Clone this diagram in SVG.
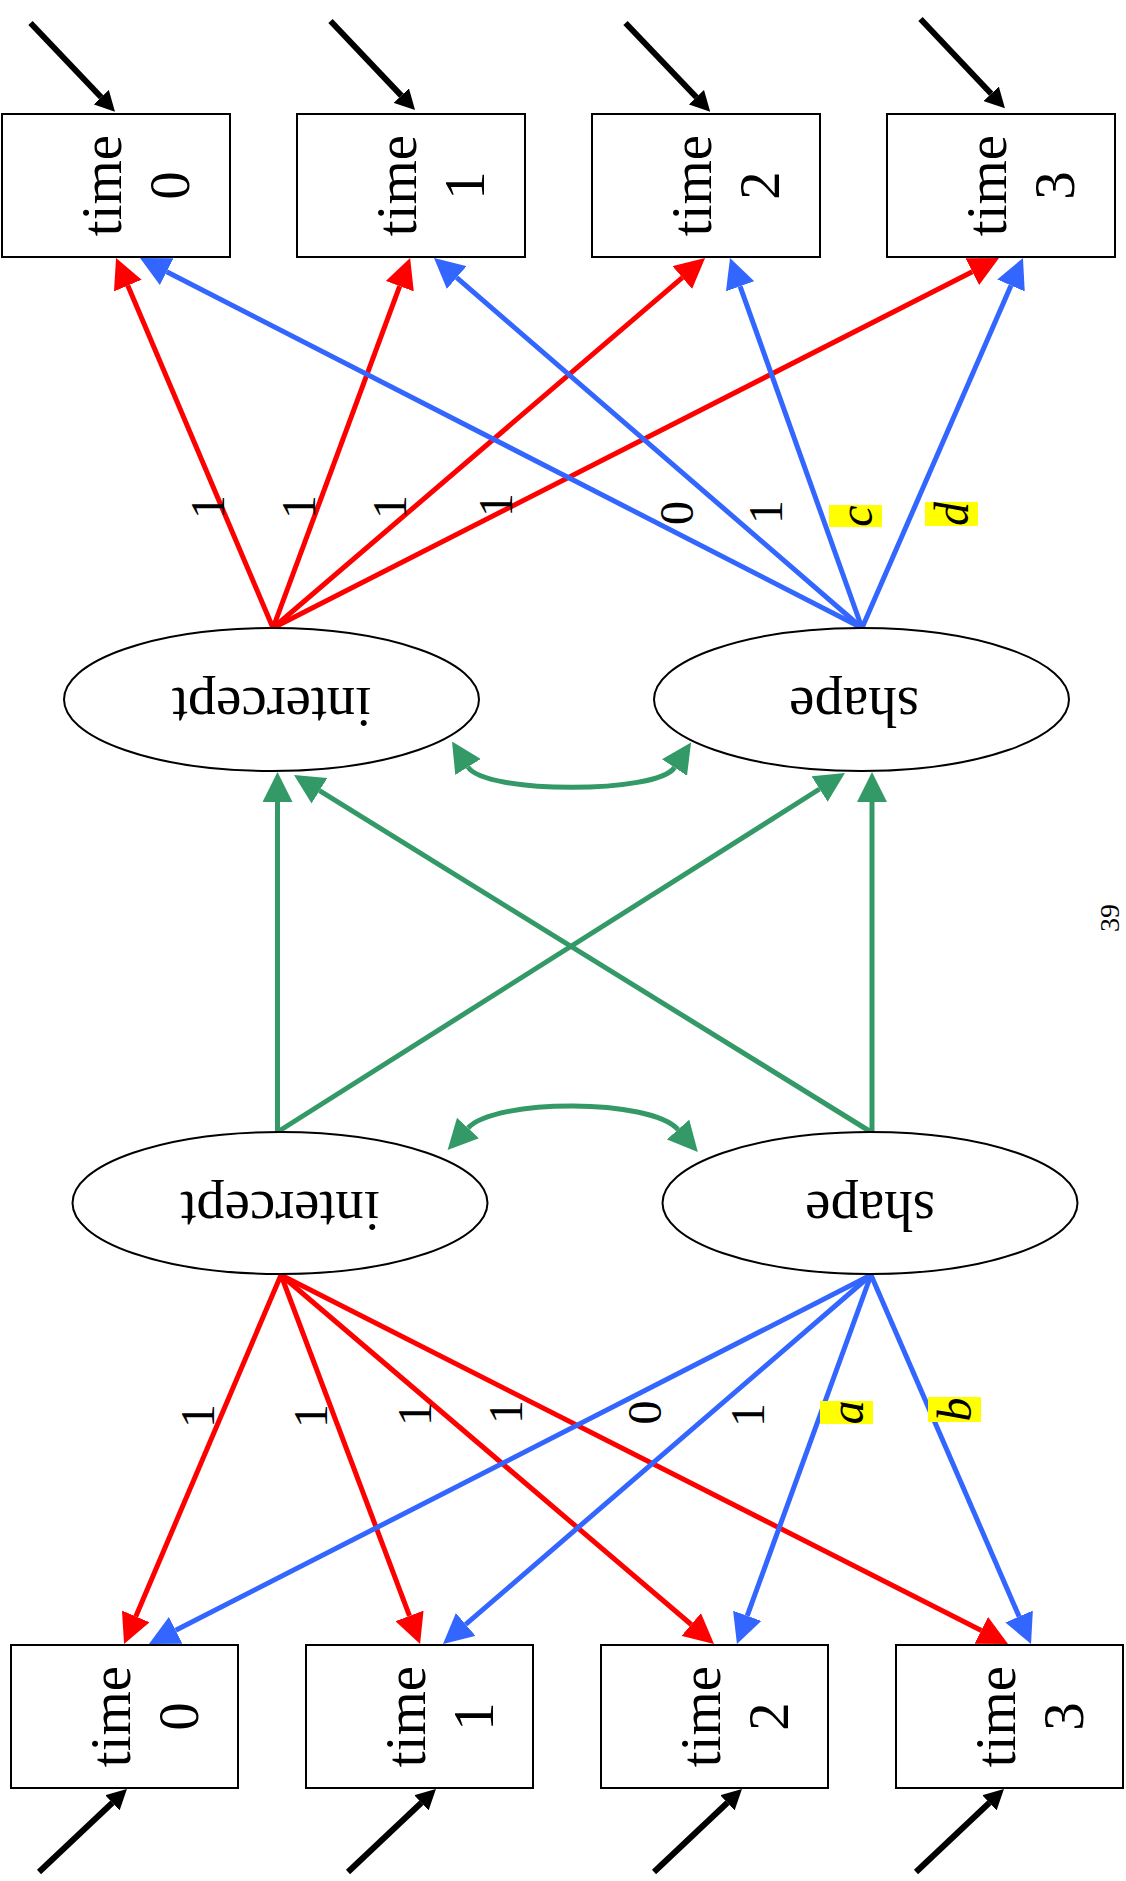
<svg xmlns="http://www.w3.org/2000/svg" width="1126" height="1881" viewBox="0 0 1126 1881">
  <style>
    text { font-family: "Liberation Serif", "Times New Roman", serif; fill: #000; }
    .box { fill: #fff; stroke: #000; stroke-width: 2; }
    .lat { fill: #fff; stroke: #000; stroke-width: 2; }
    .nlab { font-size: 57px; text-anchor: middle; }
    .elab { font-size: 48px; text-anchor: middle; }
    .it { font-style: italic; }
    .hl { fill: #ffff00; }
    .e { fill: none; stroke-width: 5; stroke-linecap: butt; }
    .red { stroke: #ff0000; marker-end: url(#ah-red); }
    .blue { stroke: #3366ff; marker-end: url(#ah-blue); }
    .green { stroke: #339966; marker-end: url(#ah-green); }
    .both { marker-start: url(#ah-green); }
    .blk { stroke: #000; stroke-width: 6; marker-end: url(#ah-black); }
    .pg { font-size: 28px; text-anchor: middle; }
  </style>
  <defs>
    <marker id="ah-red" markerUnits="userSpaceOnUse" viewBox="0 -15 30 30" markerWidth="30" markerHeight="30" refX="0" refY="0" orient="auto">
      <path d="M0,-15 L30,0 L0,15 Z" fill="#ff0000"/>
    </marker>
    <marker id="ah-blue" markerUnits="userSpaceOnUse" viewBox="0 -15 30 30" markerWidth="30" markerHeight="30" refX="0" refY="0" orient="auto">
      <path d="M0,-15 L30,0 L0,15 Z" fill="#3366ff"/>
    </marker>
    <marker id="ah-green" markerUnits="userSpaceOnUse" viewBox="0 -15 30 30" markerWidth="30" markerHeight="30" refX="0" refY="0" orient="auto-start-reverse">
      <path d="M0,-15 L30,0 L0,15 Z" fill="#339966"/>
    </marker>
    <marker id="ah-black" markerUnits="userSpaceOnUse" viewBox="0 -10.5 20 21" markerWidth="20" markerHeight="21" refX="0" refY="0" orient="auto">
      <path d="M0,-10.5 L20,0 L0,10.5 Z" fill="#000"/>
    </marker>
  </defs>

  <rect width="1126" height="1881" fill="#fff"/>

  <!-- connectors -->
  <g id="connectors">
    <!-- upper measurement block -->
    <path class="e red" d="M273,628 L127.8,285.6"/>
    <path class="e red" d="M273,628 L399.7,286.2"/>
    <path class="e red" d="M273,628 L682.3,277.6"/>
    <path class="e red" d="M273,628 L972.3,271.7"/>
    <path class="e blue" d="M862,628 L166.7,271.7"/>
    <path class="e blue" d="M862,628 L456.7,277.6"/>
    <path class="e blue" d="M862,628 L740.1,286.3"/>
    <path class="e blue" d="M862,628 L1011,285.5"/>

    <!-- lower measurement block -->
    <path class="e red" d="M281,1275 L135.8,1616.4"/>
    <path class="e red" d="M281,1275 L409.5,1615.9"/>
    <path class="e red" d="M281,1275 L691.2,1624.5"/>
    <path class="e red" d="M281,1275 L981.3,1630.4"/>
    <path class="e blue" d="M871,1275 L175.7,1630.3"/>
    <path class="e blue" d="M871,1275 L465.7,1624.4"/>
    <path class="e blue" d="M871,1275 L747.2,1615.8"/>
    <path class="e blue" d="M871,1275 L1019.1,1616.5"/>

    <!-- structural paths between the latent pairs -->
    <path class="e green" d="M277.5,1132 L277.5,802"/>
    <path class="e green" d="M872,1132 L872,802"/>
    <path class="e green" d="M277.5,1132 L819.6,789"/>
    <path class="e green" d="M871,1132 L319.5,790.7"/>

    <!-- covariances -->
    <path class="e green both" d="M468,767 C485,794 657,794 674.5,767.5"/>
    <path class="e green both" d="M468,1128 C495.5,1098.4 650.5,1098.4 678,1129.6"/>

    <!-- residual inputs -->
    <path class="e blk" d="M30.5,23 L101.2,97.2"/>
    <path class="e blk" d="M330.5,21 L401.3,95.6"/>
    <path class="e blk" d="M625.5,23 L696.4,97.2"/>
    <path class="e blk" d="M920.5,19 L991.2,93.8"/>
    <path class="e blk" d="M39,1872 L112.4,1802.8"/>
    <path class="e blk" d="M348,1872 L421.4,1802.8"/>
    <path class="e blk" d="M654,1872 L727.4,1802.8"/>
    <path class="e blk" d="M916,1872 L989.4,1802.8"/>

    <!-- loading labels -->
    <g id="edge-labels">
      <text class="elab" transform="translate(224,507) rotate(-90)">1</text>
      <text class="elab" transform="translate(315,507) rotate(-90)">1</text>
      <text class="elab" transform="translate(406,507) rotate(-90)">1</text>
      <text class="elab" transform="translate(512,505) rotate(-90)">1</text>
      <text class="elab" transform="translate(693,513) rotate(-90)">0</text>
      <text class="elab" transform="translate(782,512) rotate(-90)">1</text>
      <rect class="hl" x="829" y="505" width="53" height="22"/>
      <text class="elab it" transform="translate(871.6,516) rotate(-90)">c</text>
      <rect class="hl" x="925" y="502" width="53" height="24"/>
      <text class="elab it" transform="translate(967.6,514) rotate(-90)">d</text>

      <text class="elab" transform="translate(214,1416) rotate(-90)">1</text>
      <text class="elab" transform="translate(327,1416) rotate(-90)">1</text>
      <text class="elab" transform="translate(431,1414) rotate(-90)">1</text>
      <text class="elab" transform="translate(522,1412) rotate(-90)">1</text>
      <text class="elab" transform="translate(661,1412.5) rotate(-90)">0</text>
      <text class="elab" transform="translate(764,1415) rotate(-90)">1</text>
      <rect class="hl" x="820" y="1401" width="53" height="23"/>
      <text class="elab it" transform="translate(862.6,1412.5) rotate(-90)">a</text>
      <rect class="hl" x="928" y="1397" width="53" height="25"/>
      <text class="elab it" transform="translate(970.6,1409.5) rotate(-90)">b</text>
    </g>
  </g>

  <!-- observed measures, upper row -->
  <g id="t0-upper">
    <rect class="box" x="2" y="114" width="228" height="143"/>
    <text class="nlab" transform="translate(120.5,185.5) rotate(-90)">time</text>
    <text class="nlab" transform="translate(188.5,185.5) rotate(-90)">0</text>
  </g>
  <g id="t1-upper">
    <rect class="box" x="297" y="114" width="228" height="143"/>
    <text class="nlab" transform="translate(415.5,185.5) rotate(-90)">time</text>
    <text class="nlab" transform="translate(483.5,185.5) rotate(-90)">1</text>
  </g>
  <g id="t2-upper">
    <rect class="box" x="592" y="114" width="228" height="143"/>
    <text class="nlab" transform="translate(710.5,185.5) rotate(-90)">time</text>
    <text class="nlab" transform="translate(778.5,185.5) rotate(-90)">2</text>
  </g>
  <g id="t3-upper">
    <rect class="box" x="887" y="114" width="228" height="143"/>
    <text class="nlab" transform="translate(1005.5,185.5) rotate(-90)">time</text>
    <text class="nlab" transform="translate(1073.5,185.5) rotate(-90)">3</text>
  </g>

  <!-- latent growth factors, upper pair -->
  <g id="intercept-upper">
    <ellipse class="lat" cx="271.5" cy="699.5" rx="207.5" ry="71.5"/>
    <text class="nlab" transform="translate(271.5,688) rotate(180)">intercept</text>
  </g>
  <g id="shape-upper">
    <ellipse class="lat" cx="861.5" cy="699.5" rx="207.5" ry="71.5"/>
    <text class="nlab" transform="translate(854,688) rotate(180)">shape</text>
  </g>

  <!-- latent growth factors, lower pair -->
  <g id="intercept-lower">
    <ellipse class="lat" cx="280" cy="1203" rx="207.5" ry="71"/>
    <text class="nlab" transform="translate(280,1191.5) rotate(180)">intercept</text>
  </g>
  <g id="shape-lower">
    <ellipse class="lat" cx="870" cy="1203" rx="207.5" ry="71"/>
    <text class="nlab" transform="translate(870,1191.5) rotate(180)">shape</text>
  </g>

  <!-- observed measures, lower row -->
  <g id="t0-lower">
    <rect class="box" x="11" y="1645" width="227" height="143"/>
    <text class="nlab" transform="translate(129.5,1716.5) rotate(-90)">time</text>
    <text class="nlab" transform="translate(197.5,1716.5) rotate(-90)">0</text>
  </g>
  <g id="t1-lower">
    <rect class="box" x="306" y="1645" width="227" height="143"/>
    <text class="nlab" transform="translate(424.5,1716.5) rotate(-90)">time</text>
    <text class="nlab" transform="translate(492.5,1716.5) rotate(-90)">1</text>
  </g>
  <g id="t2-lower">
    <rect class="box" x="601" y="1645" width="227" height="143"/>
    <text class="nlab" transform="translate(719.5,1716.5) rotate(-90)">time</text>
    <text class="nlab" transform="translate(787.5,1716.5) rotate(-90)">2</text>
  </g>
  <g id="t3-lower">
    <rect class="box" x="896" y="1645" width="227" height="143"/>
    <text class="nlab" transform="translate(1014.5,1716.5) rotate(-90)">time</text>
    <text class="nlab" transform="translate(1082.5,1716.5) rotate(-90)">3</text>
  </g>

  <!-- page number -->
  <text class="pg" transform="translate(1119,918) rotate(-90)">39</text>
</svg>
